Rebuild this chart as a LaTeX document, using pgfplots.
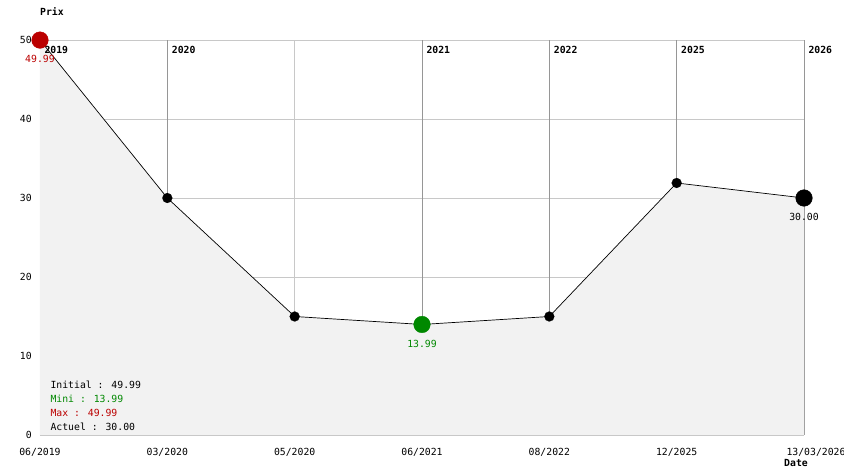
\documentclass[border=0pt]{standalone}
\usepackage{fontspec}
\setmainfont{DejaVu Sans Mono}
\usepackage{pgfplots}
\pgfplotsset{compat=1.18}
\definecolor{maxred}{RGB}{187,0,0}
\definecolor{mingreen}{RGB}{0,136,0}
\definecolor{fillgray}{RGB}{242,242,242}
\definecolor{gridlight}{RGB}{200,200,200}
\definecolor{griddark}{RGB}{150,150,150}
\begin{document}
\begin{tikzpicture}[font=\fontsize{9.8pt}{12pt}\selectfont]
\begin{axis}[
  scale only axis, width=764pt, height=395pt,
  xmin=0, xmax=6, ymin=0, ymax=50,
  axis line style={draw=none},
  major tick length=0pt,
  /pgf/number format/assume math mode=true,
  xtick={0,1,2,3,4,5,6},
  xticklabels={06/2019,03/2020,05/2020,06/2021,08/2022,12/2025,\hspace*{24pt}13/03/2026},
  ytick={0,10,20,30,40,50},
  xticklabel style={yshift=-9.5pt},
  yticklabel style={xshift=-4.7pt},
  grid=major,
  major grid style={gridlight, line width=0.75pt},
  extra x ticks={1,3,4,5,6},
  extra x tick labels={},
  extra x tick style={grid=major, major grid style={griddark, line width=0.75pt}},
  clip=false,
]
\coordinate (bl) at (rel axis cs:0,0);
\coordinate (tr) at (rel axis cs:1,1);
\addplot[fill=fillgray, draw=none] coordinates {(0,49.99) (1,30) (2,15) (3,13.99) (4,15) (5,31.9) (6,30)} \closedcycle;
\node[anchor=west, font=\fontsize{9.8pt}{12pt}\selectfont\bfseries] at (axis cs:0,50) [xshift=1pt, yshift=-10pt] {2019};
\node[anchor=west, font=\fontsize{9.8pt}{12pt}\selectfont\bfseries] at (axis cs:1,50) [xshift=1pt, yshift=-10pt] {2020};
\node[anchor=west, font=\fontsize{9.8pt}{12pt}\selectfont\bfseries] at (axis cs:3,50) [xshift=1pt, yshift=-10pt] {2021};
\node[anchor=west, font=\fontsize{9.8pt}{12pt}\selectfont\bfseries] at (axis cs:4,50) [xshift=1pt, yshift=-10pt] {2022};
\node[anchor=west, font=\fontsize{9.8pt}{12pt}\selectfont\bfseries] at (axis cs:5,50) [xshift=1pt, yshift=-10pt] {2025};
\node[anchor=west, font=\fontsize{9.8pt}{12pt}\selectfont\bfseries] at (axis cs:6,50) [xshift=1pt, yshift=-10pt] {2026};
\addplot[black, line width=0.7pt, mark=*, mark size=5pt, mark options={draw=black, fill=black, line width=0.1pt}] coordinates {(0,49.99) (1,30) (2,15) (3,13.99) (4,15) (5,31.9) (6,30)};
\addplot[only marks, mark=*, mark size=8.3pt, color=maxred, point meta=explicit symbolic, nodes near coords, every node near coord/.append style={anchor=center, yshift=-19pt, maxred}] coordinates {(0,49.99) [49.99]};
\addplot[only marks, mark=*, mark size=8.3pt, color=mingreen, point meta=explicit symbolic, nodes near coords, every node near coord/.append style={anchor=center, yshift=-19pt, mingreen}] coordinates {(3,13.99) [13.99]};
\addplot[only marks, mark=*, mark size=8.3pt, color=black, point meta=explicit symbolic, nodes near coords, every node near coord/.append style={anchor=center, yshift=-19pt, black}] coordinates {(6,30) [30.00]};
\node[anchor=base west] at (rel axis cs:0,0) [xshift=7pt, yshift=46pt] {Initial : 49.99};
\node[anchor=base west, text=mingreen] at (rel axis cs:0,0) [xshift=7pt, yshift=32pt] {Mini : 13.99};
\node[anchor=base west, text=maxred] at (rel axis cs:0,0) [xshift=7pt, yshift=18pt] {Max : 49.99};
\node[anchor=base west] at (rel axis cs:0,0) [xshift=7pt, yshift=4pt] {Actuel : 30.00};
\node[anchor=west, font=\fontsize{9.8pt}{12pt}\selectfont\bfseries, inner sep=0pt] at (rel axis cs:0,1) [yshift=28pt] {Prix};
\node[anchor=west, font=\fontsize{9.8pt}{12pt}\selectfont\bfseries, inner sep=0pt] at (rel axis cs:1,0) [xshift=-20pt, yshift=-28pt] {Date};
\end{axis}
\pgfresetboundingbox
\path ([shift={(-40pt,-39pt)}]bl) rectangle ([shift={(40pt,40pt)}]tr);
\end{tikzpicture}
\end{document}
